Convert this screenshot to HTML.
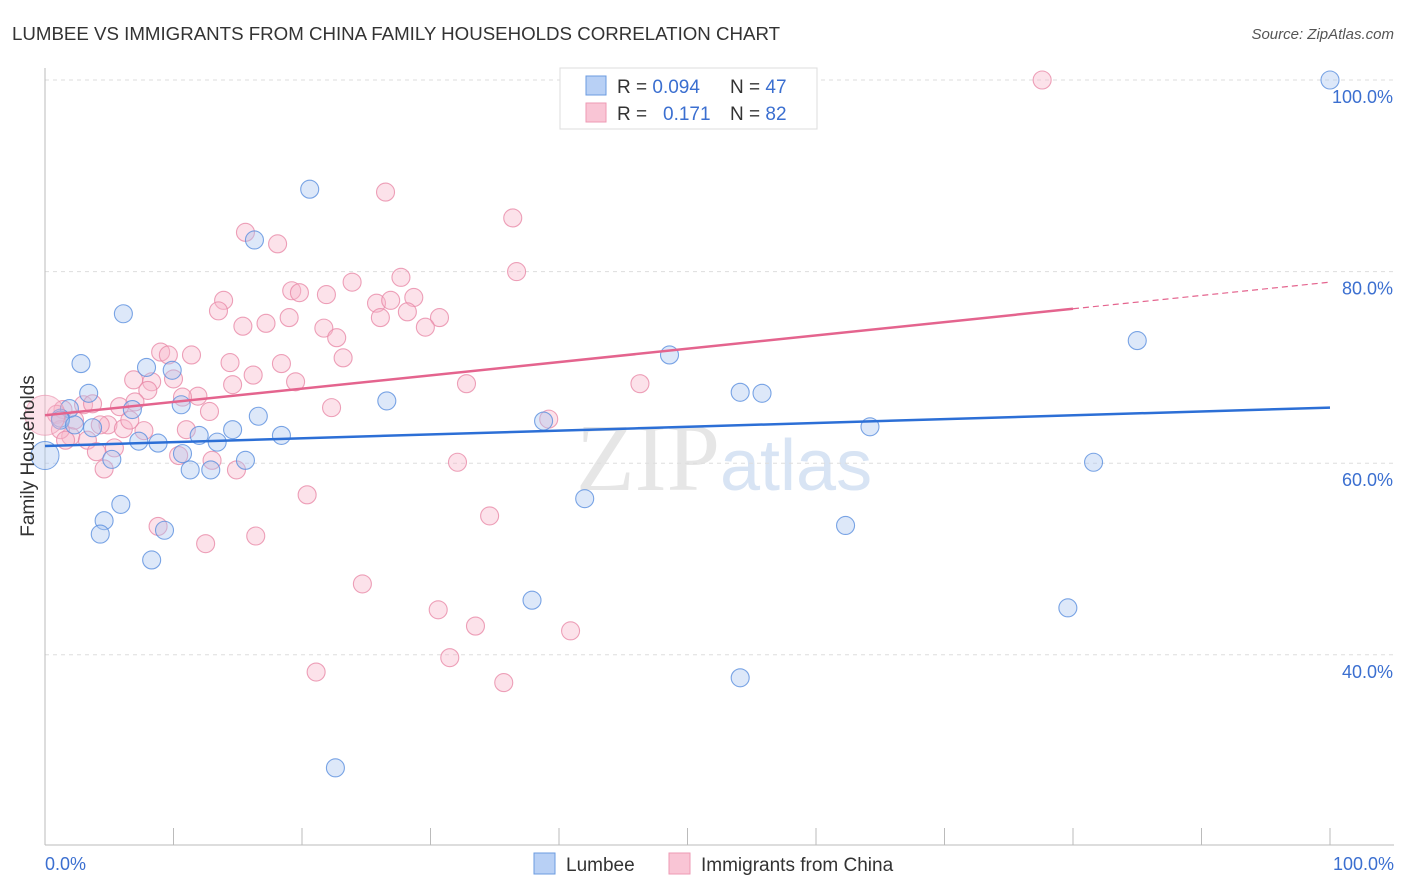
<!DOCTYPE html>
<html><head><meta charset="utf-8"><style>
body{margin:0;background:#fff;font-family:"Liberation Sans",sans-serif}
svg{display:block}
</style></head><body>
<svg id="chart" width="1406" height="892">
<text x="12" y="40" font-size="18.7" fill="#333">LUMBEE VS IMMIGRANTS FROM CHINA FAMILY HOUSEHOLDS CORRELATION CHART</text>
<text x="1394" y="39" font-size="15" fill="#555" text-anchor="end" font-style="italic">Source: ZipAtlas.com</text>
<text x="720" y="490" font-size="96" fill="#e6e6e6" font-family="Liberation Serif,serif" text-anchor="end">ZIP</text>
<text x="720" y="490" font-size="72" fill="#d8e4f4">atlas</text>
<g id="grid"></g><g id="marks"></g>
<text transform="translate(34,456) rotate(-90)" font-size="19" fill="#333" text-anchor="middle">Family Households</text>
<text x="45" y="870" font-size="18" fill="#3b6fd0">0.0%</text>
<text x="1394" y="870" font-size="18" fill="#3b6fd0" text-anchor="end">100.0%</text>
<g>
<rect x="560" y="68" width="257" height="61" fill="#fff" stroke="#ddd"/>
<rect x="586" y="76" width="20" height="19" fill="#b8d0f5" stroke="#6b9be0"/>
<rect x="586" y="103" width="20" height="19" fill="#f9c5d5" stroke="#ee9ab4"/>
<text x="617" y="93" font-size="19" fill="#333">R = <tspan fill="#3b6fd0">0.094</tspan><tspan x="730">N = </tspan><tspan fill="#3b6fd0">47</tspan></text>
<text x="617" y="120" font-size="19" fill="#333">R = <tspan x="663" fill="#3b6fd0">0.171</tspan><tspan x="730">N = </tspan><tspan fill="#3b6fd0">82</tspan></text>
</g>
<g>
<rect x="534" y="853" width="21" height="21" fill="#b8d0f5" stroke="#6b9be0"/>
<text x="566" y="871" font-size="19" fill="#333">Lumbee</text>
<rect x="669" y="853" width="21" height="21" fill="#f9c5d5" stroke="#ee9ab4"/>
<text x="701" y="871" font-size="19" fill="#333">Immigrants from China</text>
</g>
</svg>
<script>
const yTicks=[100,80,60,40];
const bluePx=[[1330,80],[310,189],[254,240],[124,314],[81,364],[147,367],[172,370],[89,393],[387,401],[69,409],[181,405],[132,410],[258,416],[60,418],[93,428],[233,430],[199,435],[139,441],[158,443],[217,442],[282,435],[182,454],[112,459],[245,460],[190,470],[211,470],[544,421],[669,355],[740,392],[762,393],[870,427],[1137,341],[1093,462],[585,499],[121,504],[104,521],[100,534],[164,530],[152,560],[845,525],[532,600],[1068,608],[740,678],[335,768],[60,420],[75,425]];
const pinkPx=[[1042,80],[385,192],[513,218],[245,232],[277,244],[517,272],[401,277],[352,282],[292,291],[300,293],[327,295],[224,300],[414,297],[377,303],[391,300],[218,311],[408,312],[380,318],[440,318],[266,323],[289,318],[243,326],[324,328],[426,327],[337,338],[161,352],[168,355],[192,355],[343,358],[230,363],[282,364],[253,375],[134,380],[152,382],[173,379],[296,382],[467,384],[233,385],[148,390],[198,396],[183,397],[135,402],[120,407],[83,405],[63,410],[93,404],[331,408],[209,411],[57,414],[108,425],[123,429],[144,431],[186,430],[71,436],[88,440],[114,448],[97,452],[179,456],[212,460],[458,462],[104,469],[237,470],[640,384],[549,419],[307,495],[490,516],[158,526],[256,536],[205,544],[362,584],[438,610],[475,626],[570,631],[450,658],[316,672],[504,683],[60,430],[75,420],[100,425],[65,440],[130,420]];
const blueX=bluePx.map(p=>+((p[0]-45)/12.85).toFixed(1));
const blueY=bluePx.map(p=>+(100-(p[1]-80)/9.58).toFixed(1));
const pinkX=pinkPx.map(p=>+((p[0]-45)/12.85).toFixed(1));
const pinkY=pinkPx.map(p=>+(100-(p[1]-80)/9.58).toFixed(1));
const blueTrend=[61.8,65.8];
const pinkTrend=[65.0,78.9];
const X=v=>45+v*12.85, Y=v=>80+(100-v)*9.58;
const NS="http://www.w3.org/2000/svg";
const grid=document.getElementById('grid'),marks=document.getElementById('marks');
function mk(tag,attrs,parent){const e=document.createElementNS(NS,tag);for(const k in attrs)e.setAttribute(k,attrs[k]);parent.appendChild(e);return e;}
yTicks.forEach(t=>{
 const l=mk('line',{x1:45,x2:1394,y1:Y(t),y2:Y(t),stroke:'#ddd','stroke-dasharray':'4,4'},grid);
 
 
 const tx=mk('text',{x:1393,y:Y(t)+23,'font-size':18,fill:'#3b6fd0','text-anchor':'end'},grid);
 tx.textContent=t.toFixed(1)+'%';
 
 
});
mk('line',{x1:45,x2:45,y1:68,y2:845,stroke:'#bbb'},grid);
mk('line',{x1:45,x2:1394,y1:845,y2:845,stroke:'#bbb'},grid);
for(let i=0;i<=10;i++){const t=mk('line',{x1:X(i*10),x2:X(i*10),y1:828,y2:845,stroke:'#bbb'},grid);
 
 }
function dots(xs,ys,fill,stroke,name){xs.forEach((x,i)=>{
 const c=mk('circle',{cx:X(x),cy:Y(ys[i]),r:9,fill:fill,'fill-opacity':0.4,stroke:stroke,'stroke-opacity':0.8,'stroke-width':1.1},marks);
 
 });}
dots(pinkX,pinkY,'#f7b6ca','#e88aa8','china-point');
dots(blueX,blueY,'#a9c6f0','#5a8ede','lumbee-point');
const bb=mk('circle',{cx:X(0),cy:Y(60.8),r:14,fill:'#a9c6f0','fill-opacity':0.4,stroke:'#5a8ede','stroke-opacity':0.8},marks);


const pb=mk('circle',{cx:X(0),cy:Y(65),r:20,fill:'#f7b6ca','fill-opacity':0.4,stroke:'#e88aa8','stroke-opacity':0.6},marks);


const bl=mk('line',{x1:X(0),y1:Y(blueTrend[0]),x2:X(100),y2:Y(blueTrend[1]),stroke:'#2c6fd6','stroke-width':2.5},marks);


const f=0.8,pm=pinkTrend[0]+(pinkTrend[1]-pinkTrend[0])*f;
const pl=mk('line',{x1:X(0),y1:Y(pinkTrend[0]),x2:X(100*f),y2:Y(pm),stroke:'#e4648e','stroke-width':2.5},marks);


const pd=mk('line',{x1:X(100*f),y1:Y(pm),x2:X(100),y2:Y(pinkTrend[1]),stroke:'#e4648e','stroke-width':1.2,'stroke-dasharray':'6,4'},marks);


</script>
</body></html>
